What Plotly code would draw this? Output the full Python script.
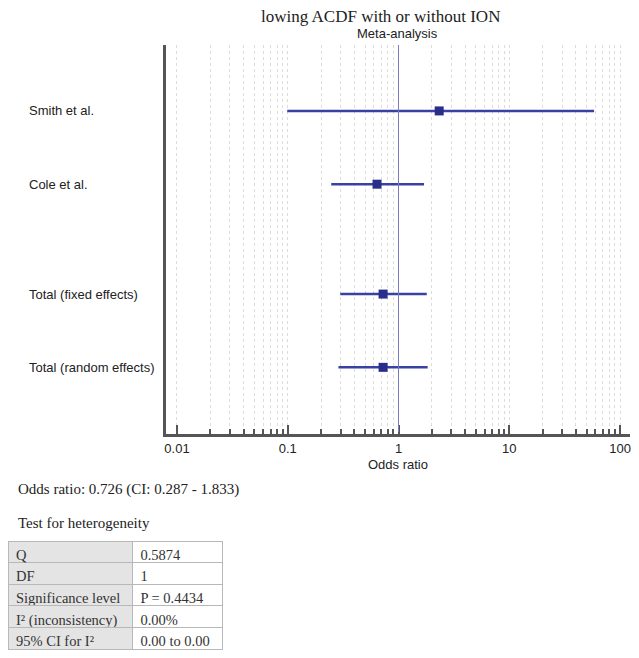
import plotly.graph_objects as go

# ---- data ----
studies = ["Smith et al.", "Cole et al.", "Total (fixed effects)", "Total (random effects)"]
row_pos = [0, 1, 2.5, 3.5]
odds = [2.33, 0.64, 0.726, 0.726]
ci_low = [0.099, 0.247, 0.298, 0.287]
ci_high = [58.3, 1.70, 1.80, 1.833]
null_value = 1

major_ticks = [0.01, 0.1, 1, 10, 100]
major_labels = ["0.01", "0.1", "1", "10", "100"]
minor_ticks = [k * 10 ** d for d in (-2, -1, 0, 1) for k in range(2, 10)]

summary_text = "Odds ratio: 0.726 (CI: 0.287 - 1.833)"
het_title = "Test for heterogeneity"
het_names = ["Q", "DF", "Significance level", "I² (inconsistency)", "95% CI for I²"]
het_values = ["0.5874", "1", "P = 0.4434", "0.00%", "0.00 to 0.00"]

W, H = 639, 658
def px_x(p): return p / W
def px_y(p): return 1 - p / H

navy = "#2a2e8a"
line_col = "#3b40a3"

fig = go.Figure()
fig.add_trace(go.Scatter(
    x=odds, y=row_pos, mode="markers",
    marker=dict(symbol="square", size=9, color=navy),
    error_x=dict(type="data", symmetric=False,
                 array=[h - o for h, o in zip(ci_high, odds)],
                 arrayminus=[o - l for o, l in zip(odds, ci_low)],
                 color=line_col, thickness=2.5, width=0),
    showlegend=False, hoverinfo="x+y"))

fig.add_shape(type="line", xref="x", yref="paper", x0=null_value, x1=null_value,
              y0=px_y(432), y1=px_y(45), line=dict(color="#7a7ac0", width=1), layer="above")

for name, pos in zip(studies, row_pos):
    fig.add_annotation(text=name, xref="paper", yref="y", x=px_x(27), y=pos,
                       xanchor="left", yanchor="middle", showarrow=False,
                       font=dict(family="Liberation Sans", size=13, color="#222"))

fig.add_annotation(text="lowing ACDF with or without ION", xref="paper", yref="paper",
                   x=px_x(381), y=px_y(16), xanchor="center", yanchor="middle", showarrow=False,
                   font=dict(family="Liberation Serif", size=17, color="#222"))
fig.add_annotation(text="Meta-analysis", xref="paper", yref="paper",
                   x=px_x(397), y=px_y(33), xanchor="center", yanchor="middle", showarrow=False,
                   font=dict(family="Liberation Sans", size=13, color="#222"))
fig.add_annotation(text=summary_text, xref="paper", yref="paper",
                   x=px_x(16), y=px_y(489), xanchor="left", yanchor="middle", showarrow=False,
                   font=dict(family="Liberation Serif", size=15, color="#222"))
fig.add_annotation(text=het_title, xref="paper", yref="paper",
                   x=px_x(16), y=px_y(523), xanchor="left", yanchor="middle", showarrow=False,
                   font=dict(family="Liberation Serif", size=15, color="#222"))

fig.add_trace(go.Table(
    domain=dict(x=[px_x(8), px_x(223)], y=[px_y(652), px_y(541)]),
    columnwidth=[125, 90],
    header=dict(values=[het_names[0], het_values[0]], height=21.6, align="left",
                fill_color=["#e4e4e4", "white"], line_color="#b8b8b8",
                font=dict(family="Liberation Serif", size=14.5, color="#333")),
    cells=dict(values=[het_names[1:], het_values[1:]], height=21.6, align="left",
               fill_color=["#e4e4e4", "white"], line_color="#b8b8b8",
               font=dict(family="Liberation Serif", size=14.5, color="#333")),
))

fig.update_layout(
    width=W, height=H, margin=dict(l=0, r=0, t=0, b=0, autoexpand=False),
    paper_bgcolor="white", plot_bgcolor="white",
    xaxis=dict(type="log", range=[-2.099, 2.09], domain=[px_x(166), px_x(630)],
               tickvals=major_ticks, ticktext=major_labels, ticks="inside", ticklen=9,
               tickwidth=2, tickcolor="#555", showline=True, linecolor="#555", linewidth=3,
               showgrid=True, gridcolor="#dcdcdc", gridwidth=1, griddash="dot",
               zeroline=False, anchor="y", automargin=False,
               tickfont=dict(family="Liberation Sans", size=13, color="#222"),
               title=dict(text="Odds ratio", font=dict(family="Liberation Sans", size=13, color="#222"),
                          standoff=6),
               minor=dict(tickvals=minor_ticks, ticks="inside", ticklen=5, tickwidth=1.5,
                          tickcolor="#555", showgrid=True, gridcolor="#dcdcdc", gridwidth=1,
                          griddash="dot")),
    yaxis=dict(range=[4.41, -0.9], domain=[px_y(434), px_y(45)], showticklabels=False,
               showgrid=False, zeroline=False, showline=True, linecolor="#555", linewidth=3,
               ticks="", anchor="x", automargin=False),
)

fig.write_html("out.html", config={"displayModeBar": False},
               post_script="document.body.style.margin='0px';")
